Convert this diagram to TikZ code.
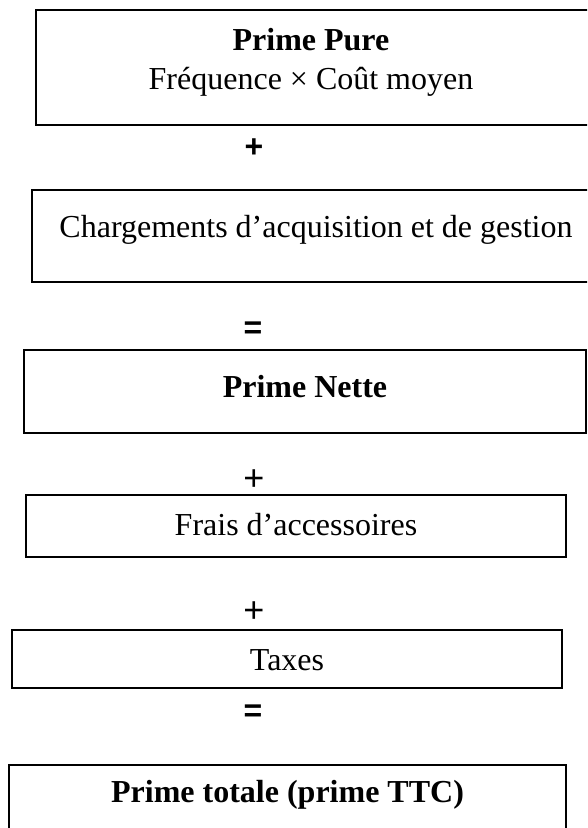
\documentclass[tikz,border=0pt]{standalone}
\usepackage{fontspec}
\setmainfont{Liberation Serif}
\newfontfamily\opfont{Liberation Sans}
\begin{document}
\begin{tikzpicture}[x=1pt,y=-1pt,
  box/.style={draw, line width=1.6pt, rectangle, inner sep=0pt},
  txt/.style={inner sep=0pt, align=center, font=\fontsize{32}{39}\selectfont},
  opb/.style={inner sep=0pt, font=\opfont\bfseries\fontsize{32}{32}\selectfont},
  opn/.style={inner sep=0pt, font=\opfont\fontsize{36}{36}\selectfont}]
\clip (0,0) rectangle (587,828);
\fill[white] (0,0) rectangle (587,828);
% boxes
\node[box, minimum width=553, minimum height=115] (b1) at (312.5,67.5) {};
\node[box, minimum width=568, minimum height=92]  (b2) at (316,236) {};
\node[box, minimum width=562, minimum height=83]  (b3) at (305,391.5) {};
\node[box, minimum width=540, minimum height=62]  (b4) at (296,526) {};
\node[box, minimum width=550, minimum height=58]  (b5) at (287,659) {};
\node[box, minimum width=557, minimum height=85]  (b6) at (287.5,807.5) {};
% texts
\node[txt] (t1) at (311,62.5) {\textbf{Prime Pure}\\Fréquence × Coût moyen};
\node[txt] (t2) at (316,230) {Chargements d’acquisition et de gestion};
\node[txt] (t3) at (305,387) {\textbf{Prime Nette}};
\node[txt] (t4) at (296,525) {Frais d’accessoires};
\node[txt] (t5) at (287,660) {Taxes};
\node[txt] (t6) at (287.5,795) {\textbf{Prime totale (prime TTC)}};
% operators
\node[opb] (o1) at (254,148) {+};
\node[opb] (o2) at (253,330) {=};
\node[opn] (o3) at (254,480) {+};
\node[opn] (o4) at (254,612) {+};
\node[opb] (o5) at (253,713) {=};
\end{tikzpicture}
\end{document}
